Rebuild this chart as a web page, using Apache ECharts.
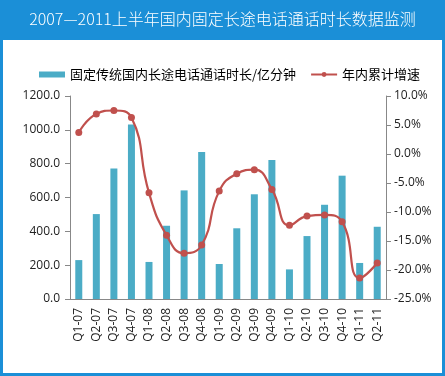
<!DOCTYPE html>
<html>
<head>
<meta charset="utf-8">
<script src="https://cdn.jsdelivr.net/npm/echarts@6/dist/echarts.min.js"></script>
<style>
  html, body { margin: 0; padding: 0; background: #fff; }
  #chart { width: 445px; height: 376px; }
</style>
</head>
<body>
<div id="chart"></div>
<script>
const categories = ['Q1-07', 'Q2-07', 'Q3-07', 'Q4-07', 'Q1-08', 'Q2-08', 'Q3-08', 'Q4-08', 'Q1-09',
  'Q2-09', 'Q3-09', 'Q4-09', 'Q1-10', 'Q2-10', 'Q3-10', 'Q4-10', 'Q1-11', 'Q2-11']
// 固定传统国内长途电话通话时长/亿分钟
const durationValues = [230, 502, 772, 1032, 219, 433, 642, 869, 207, 418, 619, 821, 175, 372, 557, 729, 213, 427]
// 年内累计增速 (%)
const growthValues = [3.7, 6.9, 7.5, 6.3, -6.7, -14.0, -17.1, -15.7, -6.4, -3.4, -2.7, -6.1, -12.3, -10.7, -10.5, -11.7, -21.4, -18.8]

const chart = echarts.init(document.getElementById('chart'))
const cjk = '"Noto Sans CJK SC", sans-serif'
const latin = '"Open Sans", "Noto Sans", sans-serif'

const option = {
  animation: false,
  backgroundColor: '#fff',
  graphic: [
    {
      type: 'rect',
      shape: { x: 1.5, y: 1.5, width: 442, height: 373 },
      style: { fill: 'none', stroke: '#1b8fd7', lineWidth: 3 }
    },
    {
      type: 'rect',
      shape: { x: 0, y: 0, width: 445, height: 40 },
      style: { fill: '#1b8fd7' }
    },
    {
      type: 'text',
      left: 'center',
      top: 11,
      style: {
        text: '2007—2011上半年国内固定长途电话通话时长数据监测',
        fill: '#fff',
        font: '300 16px ' + cjk
      }
    }
  ],
  legend: {
    top: 63,
    left: 34,
    itemGap: 14,
    itemWidth: 26,
    itemHeight: 6,
    textStyle: { fontFamily: cjk, fontSize: 13, color: '#000' },
    data: [
      { name: '固定传统国内长途电话通话时长/亿分钟', icon: 'rect' },
      { name: '年内累计增速' }
    ]
  },
  grid: { left: 70, right: 59, top: 96, bottom: 77 },
  xAxis: {
    type: 'category',
    data: categories,
    axisLine: { lineStyle: { color: '#888' } },
    axisTick: { length: 4, lineStyle: { color: '#888' } },
    axisLabel: { rotate: 90, fontFamily: latin, fontSize: 12, color: '#222', margin: 9 }
  },
  yAxis: [
    {
      type: 'value',
      min: 0,
      max: 1200,
      interval: 200,
      splitLine: { show: false },
      axisLine: { show: true, lineStyle: { color: '#888' } },
      axisTick: { show: true, length: 5, lineStyle: { color: '#888' } },
      axisLabel: {
        fontFamily: latin, fontSize: 12, color: '#222', margin: 10,
        formatter: v => v.toFixed(1)
      }
    },
    {
      type: 'value',
      min: -25,
      max: 10,
      interval: 5,
      splitLine: { show: false },
      axisLine: { show: true, lineStyle: { color: '#888' } },
      axisTick: { show: true, length: 5, lineStyle: { color: '#888' } },
      axisLabel: {
        fontFamily: latin, fontSize: 12, color: '#222', margin: 8,
        formatter: v => v.toFixed(1) + '%'
      }
    }
  ],
  series: [
    {
      name: '固定传统国内长途电话通话时长/亿分钟',
      type: 'bar',
      data: durationValues,
      barWidth: 7,
      itemStyle: { color: '#4bacc6' }
    },
    {
      name: '年内累计增速',
      type: 'line',
      yAxisIndex: 1,
      data: growthValues,
      smooth: 0.5,
      symbol: 'circle',
      symbolSize: 7,
      lineStyle: { color: '#c0504d', width: 2.2 },
      itemStyle: { color: '#c0504d' }
    }
  ]
}

chart.setOption(option)
</script>
</body>
</html>
